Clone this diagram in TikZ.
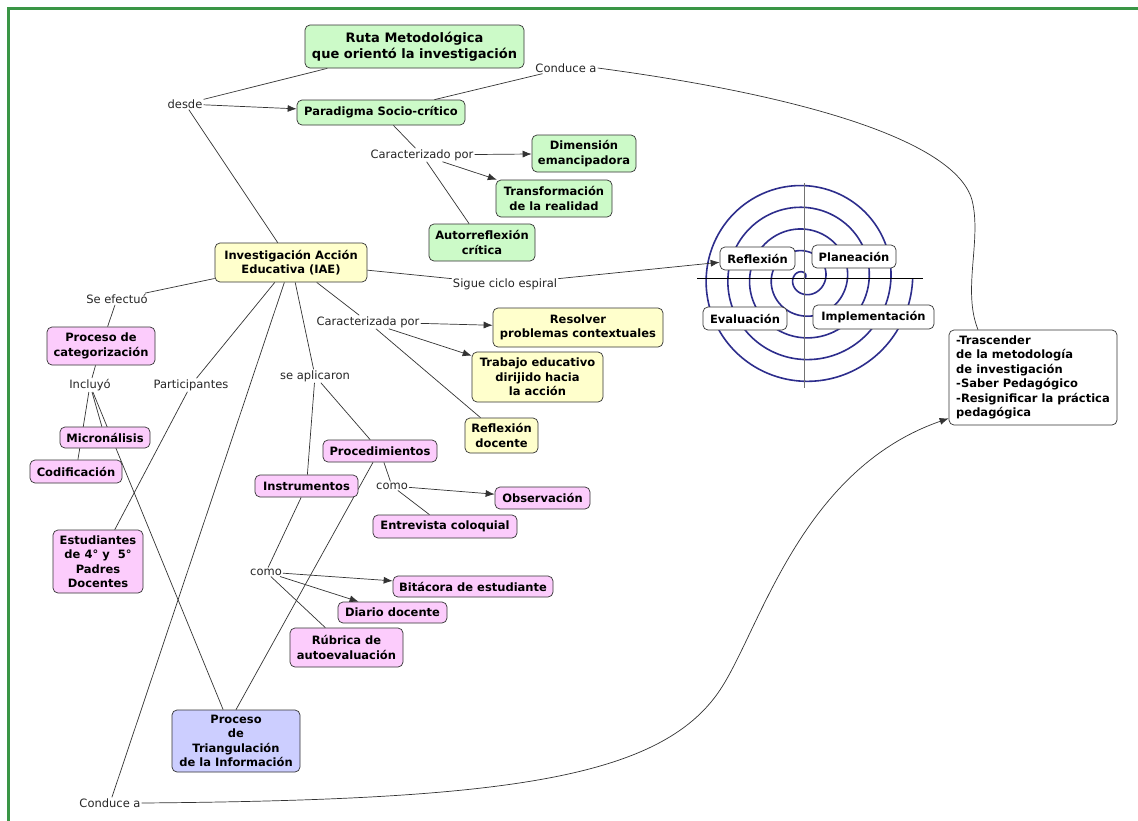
\documentclass[tikz,border=0pt]{standalone}
\usepackage{fontspec}
\setmainfont{DejaVu Sans}
\usetikzlibrary{arrows.meta,calc}
\definecolor{gfill}{RGB}{204,250,200}
\definecolor{yfill}{RGB}{255,255,204}
\definecolor{pfill}{RGB}{252,204,252}
\definecolor{bfill}{RGB}{204,206,255}
\definecolor{frame}{RGB}{58,150,70}
\definecolor{spiralc}{RGB}{45,45,140}
\pgfdeclarelayer{bg}
\pgfsetlayers{bg,main}
\tikzset{
  cbox/.style={draw=black!80, line width=0.7pt, rounded corners=5pt, align=center,
    font=\fontsize{11.5}{14.5}\selectfont\bfseries, inner sep=0pt},
  gbox/.style={cbox, fill=gfill},
  ybox/.style={cbox, fill=yfill},
  pbox/.style={cbox, fill=pfill},
  bbox/.style={cbox, fill=bfill},
  wbox/.style={cbox, fill=white},
  lbl/.style={font=\fontsize{11.5}{14}\selectfont, inner sep=1pt, text=black!85},
  conn/.style={draw=black!80, line width=0.7pt},
  arr/.style={conn, -{Latex[length=9pt,width=7pt]}},
  spiralline/.style={draw=spiralc, line width=1.6pt},
}
\begin{document}
\begin{tikzpicture}[x=1pt,y=-1pt]
\useasboundingbox (0,0) rectangle (1138,820);

% ---------- nodes ----------
\node[gbox, minimum width=219pt, minimum height=43pt, font=\fontsize{13}{16}\selectfont\bfseries] (ruta) at (414.5,46.5) {Ruta Metodológica\\que orientó la investigación};
\node[gbox, minimum width=168pt, minimum height=25pt] (parad) at (381,112.5) {Paradigma Socio-crítico};
\node[gbox, minimum width=104pt, minimum height=37pt] (dimen) at (584,153.5) {Dimensión\\emancipadora};
\node[gbox, minimum width=116pt, minimum height=37pt] (transf) at (554,198.5) {Transformación\\de la realidad};
\node[gbox, minimum width=106pt, minimum height=37pt] (autor) at (482,242.5) {Autorreflexión\\crítica};

\node[ybox, minimum width=152pt, minimum height=39pt] (iae) at (291,262.5) {Investigación Acción\\Educativa (IAE)};
\node[ybox, minimum width=170pt, minimum height=39pt] (resolver) at (578,327.5) {Resolver\\problemas contextuales};
\node[ybox, minimum width=131pt, minimum height=50pt] (trabajo) at (537.5,377) {Trabajo educativo\\dirijido hacia\\la acción};
\node[ybox, minimum width=73pt, minimum height=35pt] (refdoc) at (501.5,435.5) {Reflexión\\docente};

\node[pbox, minimum width=108pt, minimum height=38pt] (categ) at (101,346) {Proceso de\\categorización};
\node[pbox, minimum width=90pt, minimum height=21pt] (micro) at (105,437.5) {Micronálisis};
\node[pbox, minimum width=92pt, minimum height=23pt] (codif) at (76,471.5) {Codificación};
\node[pbox, minimum width=90pt, minimum height=63pt] (estud) at (98,561.5) {Estudiantes\\de 4°\ y\ \ 5°\\Padres\\Docentes};
\node[pbox, minimum width=114pt, minimum height=22pt] (proced) at (380,451) {Procedimientos};
\node[pbox, minimum width=103pt, minimum height=22pt] (instr) at (306.5,486) {Instrumentos};
\node[pbox, minimum width=95pt, minimum height=22pt] (observ) at (542.5,498) {Observación};
\node[pbox, minimum width=144pt, minimum height=23pt] (entrev) at (445,526.5) {Entrevista coloquial};
\node[pbox, minimum width=160pt, minimum height=21pt] (bitac) at (473,586.5) {Bitácora de estudiante};
\node[pbox, minimum width=109pt, minimum height=21pt] (diario) at (392.5,612.5) {Diario docente};
\node[pbox, minimum width=113pt, minimum height=39pt] (rubrica) at (346.5,647.5) {Rúbrica de\\autoevaluación};
\node[bbox, minimum width=128pt, minimum height=62pt] (triang) at (236,741) {Proceso\\de\\Triangulación\\de la Información};

\node[wbox, minimum width=168pt, minimum height=95pt, align=left] (final) at (1033,377.5) {-Trascender\\de la metodología\\de investigación\\-Saber Pedagógico\\-Resignificar la práctica\\pedagógica};

\node[wbox, minimum width=75pt, minimum height=23pt] (reflex) at (757.5,258.5) {Reflexión};
\node[wbox, minimum width=84pt, minimum height=23pt] (planea) at (854,256.5) {Planeación};
\node[wbox, minimum width=84pt, minimum height=23pt] (evalua) at (745,318.5) {Evaluación};
\node[wbox, minimum width=121pt, minimum height=24pt] (implem) at (873.5,317) {Implementación};

% ---------- linking phrases ----------
\node[lbl] (desde) at (185,104) {desde};
\node[lbl] (conducA) at (566,68) {Conduce a};
\node[lbl] (carac1) at (422,155) {Caracterizado por};
\node[lbl] (sigue) at (505,284) {Sigue ciclo espiral};
\node[lbl] (sefect) at (117,299) {Se efectuó};
\node[lbl] (incluyo) at (90,385) {Incluyó};
\node[lbl] (partic) at (191,385) {Participantes};
\node[lbl] (seapl) at (315,376) {se aplicaron};
\node[lbl] (carac2) at (368,322) {Caracterizada por};
\node[lbl] (como1) at (392,486) {como};
\node[lbl] (como2) at (266,572) {como};
\node[lbl] (conducB) at (110,803) {Conduce a};

\coordinate (finaltop) at ([xshift=-55pt]final.north);
\coordinate (finalin) at ([yshift=7pt]final.south west);

% ---------- background: spiral + connectors ----------
\begin{pgfonlayer}{bg}
  \fill[white] (0,0) rectangle (1138,820);
  \draw[frame, line width=3pt] (8,822) -- (8,8) -- (1140,8);
  \draw[spiralline] plot[domain=0:31.4159, samples=600, smooth] ({804+3.46*\x*cos(\x r)}, {278-3.46*\x*sin(\x r)});
  \draw[black, line width=0.8pt] (697,278) -- (923,278);
  \draw[black!55, line width=0.8pt] (804,183) -- (804,388);

  \draw[conn] (ruta) -- (desde);
  \draw[arr] (desde) -- (parad);
  \draw[conn] (desde) -- (iae);
  \draw[conn] (parad) -- (conducA);
  \draw[conn] (conducA.east) .. controls (800,95) and (955,140) .. (972,200)
                             .. controls (982,240) and (962,290) .. (finaltop);
  \draw[conn] (parad) -- (carac1);
  \draw[arr] (carac1) -- (dimen);
  \draw[arr] (carac1) -- (transf);
  \draw[conn] (carac1) -- (autor);

  \draw[conn] (iae) -- (sigue);
  \draw[arr] (sigue) -- (reflex);
  \draw[conn] (iae) -- (sefect);
  \draw[conn] (sefect) -- (categ);
  \draw[conn] (categ) -- (incluyo);
  \draw[conn] (incluyo) -- (micro);
  \draw[conn] (incluyo) -- (codif);
  \draw[conn] (incluyo) -- (triang);
  \draw[conn] (iae) -- (partic);
  \draw[conn] (partic) -- (estud);
  \draw[conn] (iae) -- (seapl);
  \draw[conn] (seapl) -- (instr);
  \draw[conn] (seapl) -- (proced);
  \draw[conn] (iae) -- (carac2);
  \draw[arr] (carac2) -- (resolver);
  \draw[arr] (carac2) -- (trabajo);
  \draw[conn] (carac2) -- (refdoc);
  \draw[conn] (proced) -- (como1);
  \draw[arr] (como1) -- (observ);
  \draw[conn] (como1) -- (entrev);
  \draw[conn] (instr) -- (como2);
  \draw[arr] (como2) -- (bitac);
  \draw[arr] (como2) -- (diario);
  \draw[conn] (como2) -- (rubrica);
  \draw[conn] ([xshift=-7pt]proced.south) -- (triang.north);
  \draw[conn] (iae) -- (conducB);
  \draw[arr] (conducB.east) .. controls (500,800) and (660,780) .. (720,690)
                            .. controls (760,630) and (800,470) .. (finalin);
\end{pgfonlayer}
\end{tikzpicture}
\end{document}
